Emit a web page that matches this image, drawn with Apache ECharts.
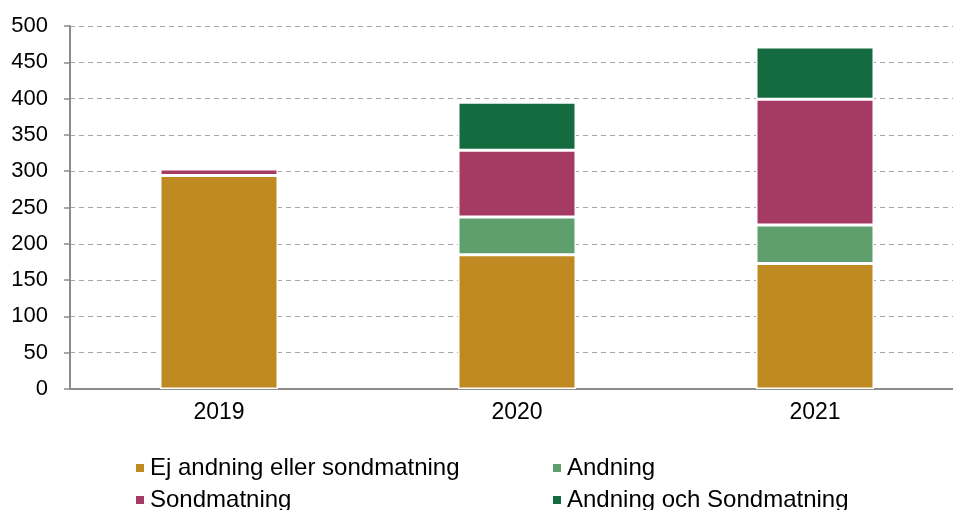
<!DOCTYPE html>
<html>
<head>
<meta charset="utf-8">
<script src="https://cdn.jsdelivr.net/npm/echarts@6/dist/echarts.min.js"></script>
<style>
  html, body { margin: 0; padding: 0; background: #ffffff; overflow: hidden; }
  #chart { width: 964px; height: 510px; }
</style>
</head>
<body>
<div id="chart"></div>
<script>
// Years on the category axis
var years = ['2019', '2020', '2021'];

// Stacked counts per year, bottom to top
var ejAndningEllerSondmatning = [294, 185, 173];
var andning = [0, 52, 53];
var sondmatning = [9, 92, 173];
var andningOchSondmatning = [1, 66, 72];

// Series names (legend order)
var seriesNames = ['Ej andning eller sondmatning', 'Andning', 'Sondmatning', 'Andning och Sondmatning'];
var seriesColors = ['#BF8A22', '#5F9E6D', '#A53A62', '#146B40'];

// Value axis ticks
var yMin = 0, yMax = 500, yStep = 50;

var font = '"Liberation Sans", Arial, sans-serif';
var seriesData = [ejAndningEllerSondmatning, andning, sondmatning, andningOchSondmatning];

var chart = echarts.init(document.getElementById('chart'), null, { renderer: 'canvas' });

chart.setOption({
  animation: false,
  backgroundColor: '#ffffff',
  textStyle: { fontFamily: font },
  // plot area runs slightly past the visible page edge on the right
  grid: { left: 70, right: 0, top: 26, height: 363, containLabel: false },
  legend: {
    left: 129,
    top: 447,
    width: 860,
    orient: 'horizontal',
    itemWidth: 10,
    itemHeight: 10,
    itemGap: 0,
    icon: 'rect',
    data: seriesNames,
    textStyle: {
      fontFamily: font,
      fontSize: 24,
      color: '#000000',
      width: 401,
      lineHeight: 32
    }
  },
  xAxis: {
    type: 'category',
    data: years,
    axisLine: { show: true, lineStyle: { color: '#8c8c8c', width: 2 } },
    axisTick: { show: false },
    axisLabel: { fontFamily: font, fontSize: 23, color: '#000000', margin: 12 }
  },
  yAxis: {
    type: 'value',
    min: yMin,
    max: yMax,
    interval: yStep,
    axisLine: { show: true, lineStyle: { color: '#8c8c8c', width: 2 } },
    axisTick: { show: true, length: 6, lineStyle: { color: '#8c8c8c', width: 1.5 } },
    axisLabel: { fontFamily: font, fontSize: 22, color: '#000000', margin: 22 },
    splitLine: { show: true, lineStyle: { color: '#a6a6a6', width: 1.2, type: [5, 4] } }
  },
  series: seriesNames.map(function (name, i) {
    return {
      name: name,
      type: 'bar',
      stack: 'total',
      barWidth: 118,
      data: seriesData[i],
      itemStyle: { color: seriesColors[i], borderColor: '#ffffff', borderWidth: 1.5 }
    };
  })
});
</script>
</body>
</html>
